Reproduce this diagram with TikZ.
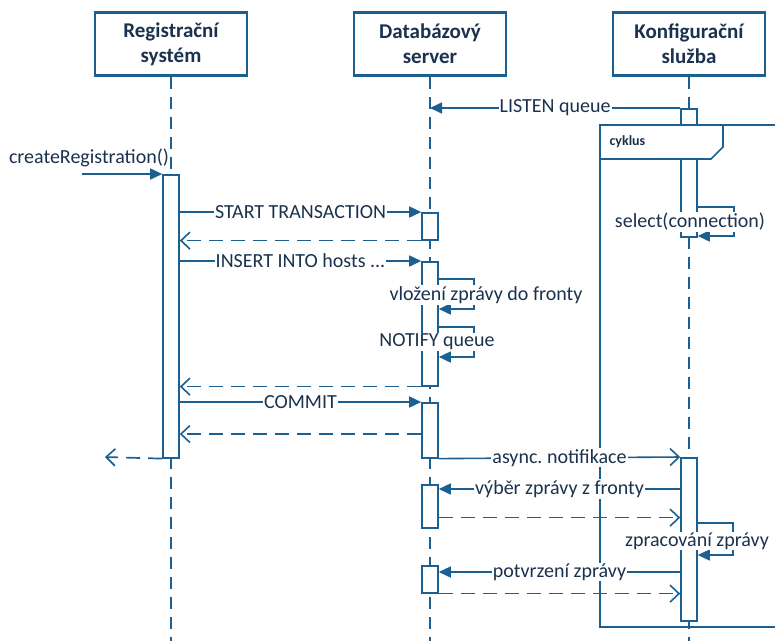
\documentclass[tikz,border=0pt]{standalone}
\usepackage{fontspec}
\setmainfont{Carlito}
\usepackage{tikz}
\usetikzlibrary{arrows.meta,positioning,calc}

\definecolor{umlline}{RGB}{28,96,145}
\definecolor{umltext}{RGB}{26,50,78}

\tikzset{
  head/.style={draw=umlline, line width=2.6pt, minimum width=152pt, minimum height=63pt,
    align=center, text=umltext, font=\bfseries\fontsize{21}{25}\selectfont},
  life/.style={draw=umlline, line width=1.6pt, dash pattern=on 12pt off 8pt},
  bar/.style={draw=umlline, fill=white, line width=1.6pt, minimum width=16pt,
    inner sep=0pt, anchor=north},
  msg/.style={draw=umlline, line width=1.6pt, -{Triangle[length=12pt,width=11pt]}},
  ret/.style={draw=umlline, line width=1.7pt, dash pattern=on 14pt off 8pt,
    -{Straight Barb[length=9pt,width=17pt,line width=1.6pt]}},
  async/.style={draw=umlline, line width=1.6pt,
    -{Straight Barb[length=9pt,width=17pt,line width=1.6pt]}},
  frame/.style={draw=umlline, line width=1.6pt},
  lbl/.style={fill=white, inner sep=1pt, text=umltext, font=\fontsize{20}{22}\selectfont},
}

\begin{document}
\begin{tikzpicture}[x=1pt, y=-1pt]
    \clip (0,0) rectangle (775,641);
    \coordinate (bottom) at (0,641);

    % participants
    \node[head] (rs) at (171,44) {Registrační\\systém};
    \node[head] (db) at (430,44) {Databázový\\server};
    \node[head] (kf) at (689,44) {Konfigurační\\služba};

    % lifelines
    \draw[life] (rs.south) -- (rs.south |- bottom);
    \draw[life] (db.south) -- (db.south |- bottom);
    \draw[life] (kf.south) -- (kf.south |- bottom);

    % loop frame
    \draw[frame] (600,125) rectangle (790,627);

    % activations
    \node[bar, minimum height=283pt] (rsbar) at (171,174) {};
    \node[bar, minimum height=27pt] (dbbar1) at (430,212) {};
    \node[bar, minimum height=124pt] (dbbar2) at (430,261) {};
    \node[bar, minimum height=55pt] (dbbar3) at (430,402) {};
    \node[bar, minimum height=43pt] (dbbar4) at (430,484) {};
    \node[bar, minimum height=27pt] (dbbar5) at (430,565) {};
    \node[bar, minimum height=128pt] (kfbar1) at (689,108) {};
    \node[bar, minimum height=163pt] (kfbar2) at (689,457) {};

    % loop header
    \draw[frame, fill=white] (600,125) -- (723,125) -- (723,147) -- (711,159) -- (600,159) -- cycle;
    \node[anchor=west, text=umltext, font=\bfseries\fontsize{14}{16}\selectfont] (cyklus) at (606,142) {cyklus};

    % LISTEN
    \draw[msg] (kfbar1.north west) -- (db.south |- kfbar1.north) node[lbl, midway] {LISTEN queue};

    % select loop
    \draw[msg] ([yshift=-99pt]kfbar1.north east) -- ++(36,0) -- ++(0,29) -- ++(-36,0);
    \node[lbl] (select) at (690,222) {select(connection)};

    % createRegistration
    \coordinate (caller) at (82,174);
    \draw[msg] (caller) -- (rsbar.north west);
    \node[lbl] (create) at (89,158) {createRegistration()};

    % START TRANSACTION
    \draw[msg] (rsbar.east |- dbbar1.north) -- (dbbar1.north west) node[lbl, midway] {START TRANSACTION};
    \draw[ret] (dbbar1.south west) -- (rsbar.east |- dbbar1.south);

    % INSERT
    \draw[msg] (rsbar.east |- dbbar2.north) -- (dbbar2.north west) node[lbl, midway] {INSERT INTO hosts ...};
    \draw[msg] ([yshift=-18pt]dbbar2.north east) -- ++(35,0) -- ++(0,30) -- ++(-35,0);
    \draw[msg] ([yshift=-66pt]dbbar2.north east) -- ++(35,0) -- ++(0,30) -- ++(-35,0);
    \node[lbl] (vlozeni) at (486,295) {vložení zprávy do fronty};
    \node[lbl] (notify) at (437,342) {NOTIFY queue};
    \draw[ret] (dbbar2.south west) -- (rsbar.east |- dbbar2.south);

    % COMMIT
    \draw[msg] (rsbar.east |- dbbar3.north) -- (dbbar3.north west) node[lbl, midway] {COMMIT};
    \coordinate (commitret) at ([yshift=-32pt]dbbar3.north west);
    \draw[ret] (commitret) -- (rsbar.east |- commitret);

    % return of createRegistration
    \coordinate (regend) at (105,457);
    \draw[ret] (rsbar.south west) -- (regend);

    % notification
    \draw[async] (dbbar3.south east) -- (kfbar2.north west) node[lbl, midway] {async.\ notifikace};

    % fetch message
    \coordinate (fetch) at ([yshift=-5pt]dbbar4.north east);
    \draw[msg] (kfbar2.west |- fetch) -- (fetch) node[lbl, midway] {výběr zprávy z fronty};
    \coordinate (fetchret) at ([yshift=11pt]dbbar4.south east);
    \draw[ret] (fetchret) -- (kfbar2.west |- fetchret);

    % processing
    \draw[msg] ([yshift=-66pt]kfbar2.north east) -- ++(35,0) -- ++(0,32) -- ++(-35,0);
    \node[lbl] (process) at (697,541) {zpracování zprávy};

    % confirm
    \coordinate (confirm) at ([yshift=-7pt]dbbar5.north east);
    \draw[msg] (kfbar2.west |- confirm) -- (confirm) node[lbl, midway] {potvrzení zprávy};
    \draw[ret] (dbbar5.south east) -- (kfbar2.west |- dbbar5.south);
\end{tikzpicture}
\end{document}
